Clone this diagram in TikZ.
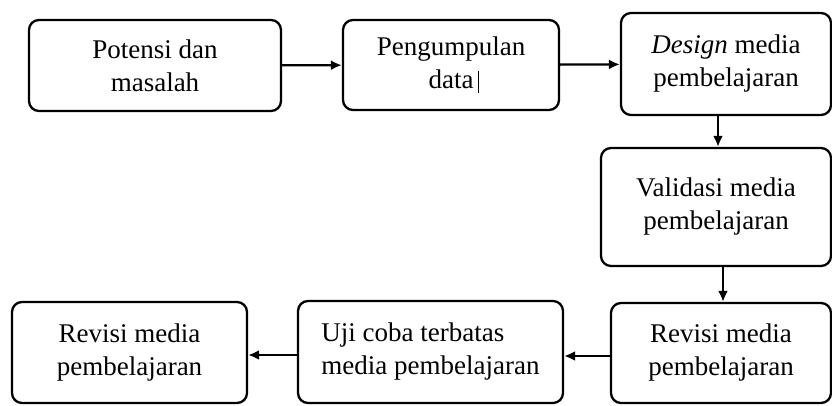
\documentclass[tikz,border=0pt]{standalone}
\usepackage{fontspec}
\setmainfont{Liberation Serif}
\usetikzlibrary{arrows.meta,positioning}
\tikzset{
  tahap/.style={rectangle, rounded corners=10pt, draw=black, line width=2.3pt, fill=white,
                align=center, font=\fontsize{27}{33}\selectfont, inner sep=0pt},
  arr/.style={-{Latex[length=11pt,width=10pt]}, line width=2.3pt, draw=black},
}
\begin{document}
\begin{tikzpicture}[x=1pt,y=-1pt]
  \useasboundingbox (0,0) rectangle (832,406);
  \node[tahap, minimum width=252pt, minimum height=91pt] (potensi) at (155,65.5){Potensi dan\\masalah};
  \node[tahap, minimum width=216pt, minimum height=90pt] (kumpul) at (451,65){Pengumpulan\\data\rlap{\,\rule[-4pt]{1.2pt}{22pt}}};
  \node[tahap, minimum width=210pt, minimum height=102pt] (desain) at (726,64){\textit{Design} media\\pembelajaran};
  \node[tahap, minimum width=230pt, minimum height=118pt] (validasi) at (716,207){Validasi media\\pembelajaran};
  \node[tahap, minimum width=220pt, minimum height=100pt] (revisiA) at (721,353){Revisi media\\pembelajaran};
  \node[tahap, minimum width=265pt, minimum height=102pt, align=left] (ujicoba) at (430.5,352){Uji coba terbatas\\media pembelajaran};
  \node[tahap, minimum width=235pt, minimum height=101pt] (revisiB) at (129.5,352.5){Revisi media\\pembelajaran};
  \draw[arr](potensi)--(kumpul); \draw[arr](kumpul)--(desain);
  \draw[arr](desain.south -| 718,0)--(validasi.north -| 718,0);
  \draw[arr](validasi.south -| 723,0)--(revisiA.north -| 723,0);
  \draw[arr](revisiA.west |- 0,356)--(ujicoba.east |- 0,356);
  \draw[arr](ujicoba.west |- 0,355)--(revisiB.east |- 0,355);
\end{tikzpicture}
\end{document}
